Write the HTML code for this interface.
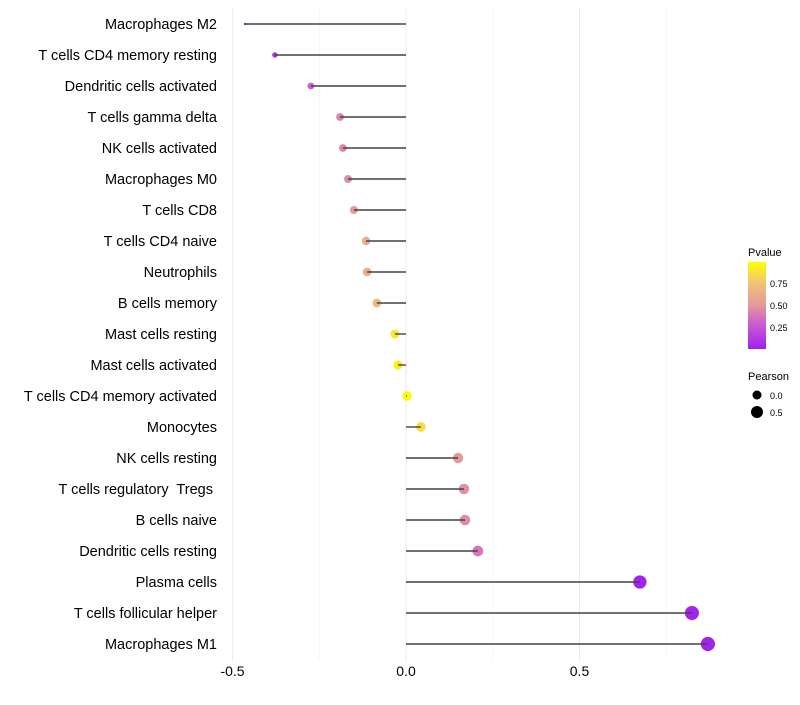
<!DOCTYPE html>
<html><head><meta charset="utf-8"><style>
body{margin:0;background:#fff;font-family:"Liberation Sans",sans-serif;}
text{white-space:pre;}
</style></head><body>
<svg id="chart" width="800" height="700" xmlns="http://www.w3.org/2000/svg">
<defs><linearGradient id="pg" x1="0" y1="1" x2="0" y2="0">
<stop offset="0" stop-color="#a020f0"/><stop offset="0.3" stop-color="#cf5ecf"/><stop offset="0.5" stop-color="#e29a9a"/><stop offset="0.75" stop-color="#f2c07a"/><stop offset="1" stop-color="#ffff00"/></linearGradient></defs>
<g id="grid"></g><g id="marks"></g><g id="labels"></g>
<g>
<text x="748" y="256" font-size="11">Pvalue</text>
<rect x="748" y="262" width="18" height="87" fill="url(#pg)"/>
<text x="770" y="287" font-size="9">0.75</text>
<text x="770" y="309" font-size="9">0.50</text>
<text x="770" y="331" font-size="9">0.25</text>
</g>
<g>
<text x="748" y="380" font-size="11">Pearson</text>
<circle cx="757" cy="395" r="4.5" fill="#000"/><text x="770" y="399" font-size="9">0.0</text>
<circle cx="757" cy="412" r="6" fill="#000"/><text x="770" y="416" font-size="9">0.5</text>
</g>
</svg>
<script>
const categories=["Macrophages M2","T cells CD4 memory resting","Dendritic cells activated","T cells gamma delta","NK cells activated","Macrophages M0","T cells CD8","T cells CD4 naive","Neutrophils","B cells memory","Mast cells resting","Mast cells activated","T cells CD4 memory activated","Monocytes","NK cells resting","T cells regulatory  Tregs ","B cells naive","Dendritic cells resting","Plasma cells","T cells follicular helper","Macrophages M1"];
const pearson=[-0.464,-0.378,-0.274,-0.19,-0.182,-0.167,-0.15,-0.115,-0.112,-0.084,-0.032,-0.023,0.003,0.043,0.15,0.167,0.17,0.207,0.674,0.824,0.87];
const pvalue=[0.02,0.08,0.3,0.42,0.44,0.46,0.52,0.62,0.62,0.7,0.9,0.93,0.99,0.86,0.5,0.47,0.46,0.38,0.01,0.01,0.01];
const xTicks=[-0.5,0,0.5];
const xTickLabels=["-0.5","0.0","0.5"];
const NS="http://www.w3.org/2000/svg";
const x=v=>406+v*347;
const y=i=>24+i*31;
const pmin=Math.min(...pearson),pmax=Math.max(...pearson);
const r=v=>1.2+5.9*Math.sqrt((v-pmin)/(pmax-pmin));
function col(p){const st=[[0,[160,32,240]],[0.3,[207,94,207]],[0.5,[226,154,154]],[0.75,[242,192,122]],[1,[255,255,0]]];
for(let k=1;k<st.length;k++){if(p<=st[k][0]){const a=st[k-1],b=st[k],t=(p-a[0])/(b[0]-a[0]);return "rgb("+a[1].map((c,j)=>Math.round(c+(b[1][j]-c)*t)).join(",")+")";}}return "rgb(255,255,0)";}
function mk(t,a,p){const e=document.createElementNS(NS,t);for(const k in a)e.setAttribute(k,a[k]);p.appendChild(e);return e;}
const grid=document.getElementById('grid'),marks=document.getElementById('marks'),labels=document.getElementById('labels');
[-0.25,0.25,0.75].forEach(v=>{const l=mk('line',{x1:x(v),x2:x(v),y1:8,y2:660,stroke:'#f0f0f0','stroke-width':0.6},grid);

});
xTicks.forEach((v,i)=>{const l=mk('line',{x1:x(v),x2:x(v),y1:8,y2:660,stroke:'#ebebeb','stroke-width':1},grid);


const t=mk('text',{x:x(v),y:676,'font-size':14,'text-anchor':'middle',fill:'#000'},labels);t.textContent=xTickLabels[i];

});
categories.forEach((c,i)=>{
const ci=mk('circle',{cx:x(pearson[i]),cy:y(i),r:r(pearson[i]),fill:col(pvalue[i])},marks);


const ln=mk('line',{x1:x(0),x2:x(pearson[i]),y1:y(i),y2:y(i),stroke:'#444','stroke-width':1.4},marks);


const t=mk('text',{x:217,y:y(i)+5,'font-size':14.5,'text-anchor':'end',fill:'#000'},labels);t.textContent=c;

});
</script>
</body></html>
